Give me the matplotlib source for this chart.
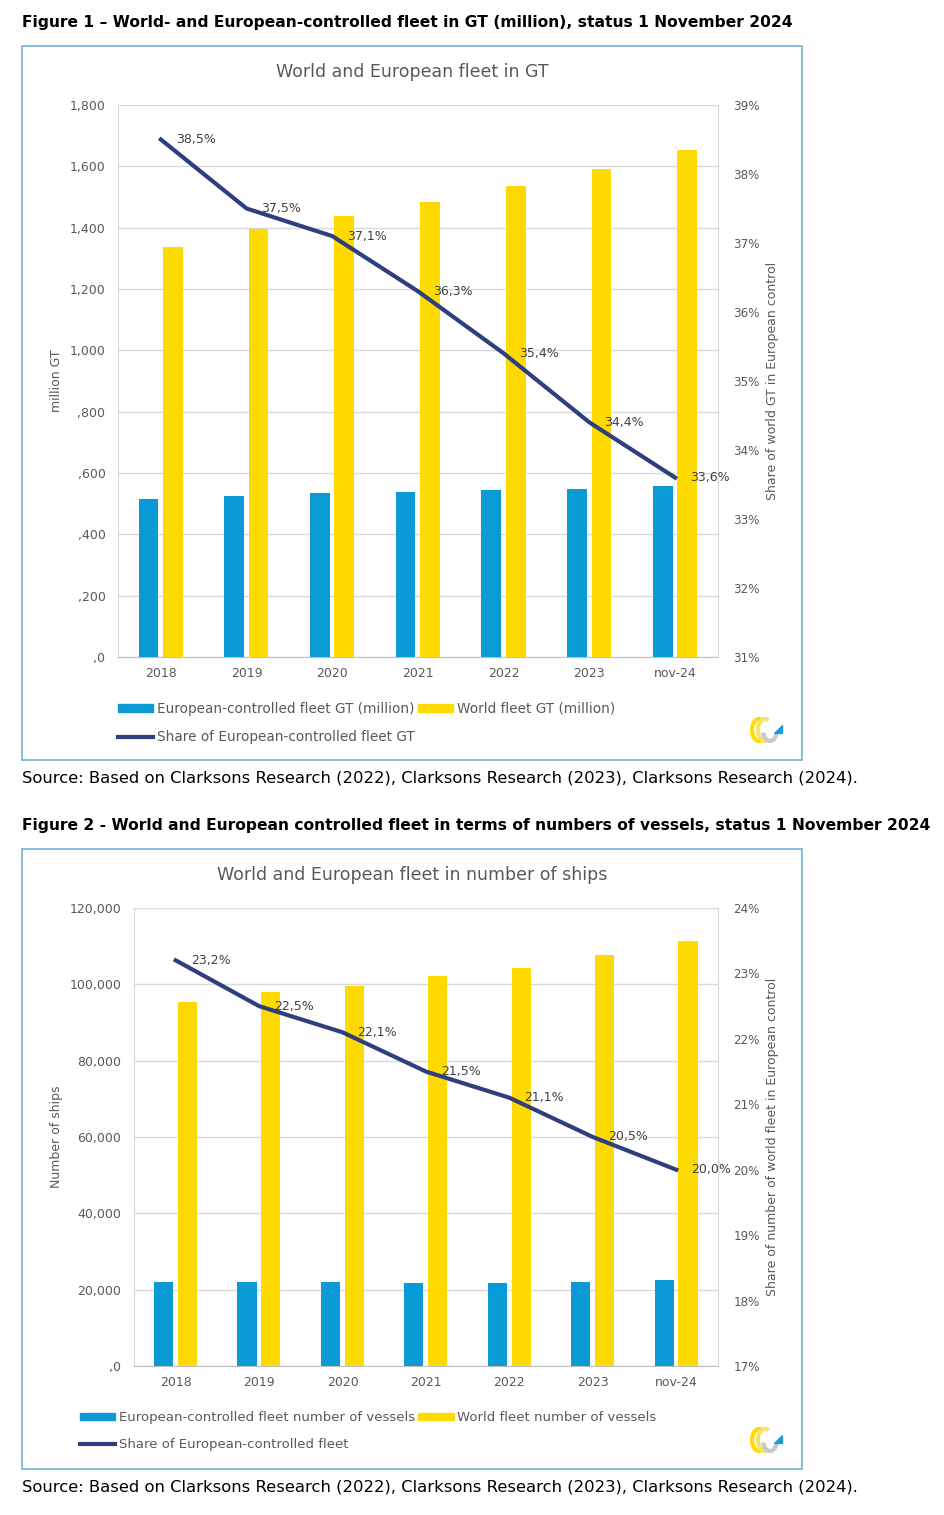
import numpy as np
import matplotlib.pyplot as plt
from matplotlib.patches import Rectangle, Arc, Polygon
from matplotlib.lines import Line2D

W, H = 944, 1515

years = ['2018', '2019', '2020', '2021', '2022', '2023', 'nov-24']

# figure 1 - GT (million)
eu_gt = [515, 525, 535, 538, 545, 548, 557]
world_gt = [1337, 1395, 1438, 1484, 1536, 1591, 1653]
share_gt = [38.5, 37.5, 37.1, 36.3, 35.4, 34.4, 33.6]
gt_ticks = [0, 200, 400, 600, 800, 1000, 1200, 1400, 1600, 1800]
gt_ticklabels = [',0', ',200', ',400', ',600', ',800', '1,000', '1,200', '1,400', '1,600', '1,800']

# figure 2 - number of ships
eu_ships = [22100, 22100, 22100, 21800, 21800, 22100, 22500]
world_ships = [95300, 98000, 99600, 102200, 104300, 107700, 111400]
share_ships = [23.2, 22.5, 22.1, 21.5, 21.1, 20.5, 20.0]
ship_ticks = [0, 20000, 40000, 60000, 80000, 100000, 120000]
ship_ticklabels = [',0', '20,000', '40,000', '60,000', '80,000', '100,000', '120,000']

BLUE = '#0A9BD6'
YELLOW = '#FFDA00'
NAVY = '#2F3F7E'
GRID = '#D9D9D9'
TXT = '#595959'


def px(x, y, w, h):
    return [x / W, 1 - (y + h) / H, w / W, h / H]


def frame(fig, x, y, w, h):
    fig.patches.append(Rectangle((x / W, 1 - (y + h) / H), w / W, h / H,
                                 transform=fig.transFigure, fill=False,
                                 edgecolor='#6FB3D8', linewidth=1.2))


def logo(fig, x, y):
    a = fig.add_axes(px(x, y, 38, 28))
    a.set_xlim(0, 38)
    a.set_ylim(0, 28)
    a.axis('off')
    a.add_patch(Arc((11, 14), 14, 22, theta1=70, theta2=290, color=YELLOW, lw=3))
    a.add_patch(Arc((17, 14), 14, 22, theta1=70, theta2=290, color='#F2E36B', lw=3))
    a.add_patch(Arc((22, 14), 14, 22, theta1=200, theta2=330, color='#C8C8C8', lw=3))
    a.add_patch(Polygon([[26, 11], [34, 11], [34, 19]], closed=True, color='#1E9BD7'))


def chart(fig, box, eu, world, share, yticks, ylabels, rlim, ylab, rlab,
          leg_labels, leg_x, leg_y, leg_fs):
    ax = fig.add_axes(px(*box))
    x = np.arange(len(years))
    ax.bar(x - 0.145, eu, 0.23, color=BLUE, zorder=3)
    ax.bar(x + 0.14, world, 0.23, color=YELLOW, zorder=3)
    ax.set_xlim(-0.5, len(years) - 0.5)
    ax.set_ylim(yticks[0], yticks[-1])
    ax.set_yticks(yticks)
    ax.set_yticklabels(ylabels)
    ax.set_xticks(x)
    ax.set_xticklabels(years)
    ax.grid(axis='y', color=GRID, lw=1, zorder=0)
    ax.tick_params(axis='both', length=0, labelsize=9, colors=TXT)
    ax.tick_params(axis='y', pad=9)
    ax.tick_params(axis='x', pad=7)
    for s in ax.spines.values():
        s.set_color(GRID)
    ax.spines['bottom'].set_color('#BFBFBF')
    ax.set_ylabel(ylab, fontsize=9, color=TXT)
    ax.yaxis.set_label_coords((63 - box[0]) / box[2], 0.5)

    ax2 = ax.twinx()
    ax2.plot(x, share, color=NAVY, lw=3, zorder=5)
    ax2.set_ylim(*rlim)
    rt = np.arange(rlim[0], rlim[1] + 1)
    ax2.set_yticks(rt)
    ax2.set_yticklabels([f'{v}%' for v in rt])
    ax2.tick_params(axis='y', length=0, labelsize=8.6, colors=TXT, pad=11)
    for s in ax2.spines.values():
        s.set_visible(False)
    ax2.set_ylabel(rlab, fontsize=9, color=TXT)
    ax2.yaxis.set_label_coords((766 - box[0]) / box[2], 0.5)
    for xi, v in zip(x, share):
        ax2.annotate(f'{v:.1f}%'.replace('.', ','), (xi, v), xytext=(15, 0),
                     textcoords='offset pixels', ha='left', va='center',
                     fontsize=9, color='#404040', zorder=6)

    handles = [Rectangle((0, 0), 1, 1, color=BLUE),
               Line2D([], [], color=NAVY, lw=3),
               Rectangle((0, 0), 1, 1, color=YELLOW)]
    labels = [leg_labels[0], leg_labels[2], leg_labels[1]]
    fig.legend(handles, labels, loc='upper left',
               bbox_to_anchor=(leg_x / W, 1 - leg_y / H), ncol=2,
               frameon=False, fontsize=leg_fs, labelcolor=TXT,
               handlelength=2.6 * 9.8 / leg_fs, handleheight=0.5,
               handletextpad=0.25, columnspacing=0.25,
               labelspacing=1.05 * 9.8 / leg_fs, borderpad=0, borderaxespad=0)
    return ax


fig = plt.figure(figsize=(W / 100, H / 100), dpi=100)

fig.text(22 / W, 1 - 22 / H,
         'Figure 1 \u2013 World- and European-controlled fleet in GT (million), status 1 November 2024',
         fontsize=11.2, fontweight='bold', va='center', ha='left')
frame(fig, 22, 46, 780, 714)
fig.text(412 / W, 1 - 72 / H, 'World and European fleet in GT', fontsize=12.5,
         color=TXT, ha='center', va='center')
chart(fig, (118, 105, 600, 552), eu_gt, world_gt, share_gt, gt_ticks,
      gt_ticklabels, (31, 39), 'million GT', 'Share of world GT in European control',
      ['European-controlled fleet GT (million)', 'World fleet GT (million)',
       'Share of European-controlled fleet GT'], 118, 702, 9.8)
logo(fig, 748, 716)
fig.text(22 / W, 1 - 778 / H,
         'Source: Based on Clarksons Research (2022), Clarksons Research (2023), Clarksons Research (2024).',
         fontsize=11.8, va='center', ha='left')

fig.text(22 / W, 1 - 825 / H,
         'Figure 2 - World and European controlled fleet in terms of numbers of vessels, status 1 November 2024',
         fontsize=11.2, fontweight='bold', va='center', ha='left')
frame(fig, 22, 849, 780, 620)
fig.text(412 / W, 1 - 875 / H, 'World and European fleet in number of ships',
         fontsize=12.5, color=TXT, ha='center', va='center')
chart(fig, (134, 908, 584, 458), eu_ships, world_ships, share_ships, ship_ticks,
      ship_ticklabels, (17, 24), 'Number of ships',
      'Share of number of world fleet in European control',
      ['European-controlled fleet number of vessels', 'World fleet number of vessels',
       'Share of European-controlled fleet'], 80, 1411, 9.5)
logo(fig, 748, 1426)
fig.text(22 / W, 1 - 1487 / H,
         'Source: Based on Clarksons Research (2022), Clarksons Research (2023), Clarksons Research (2024).',
         fontsize=11.8, va='center', ha='left')

fig.savefig('out.png', dpi=100)
